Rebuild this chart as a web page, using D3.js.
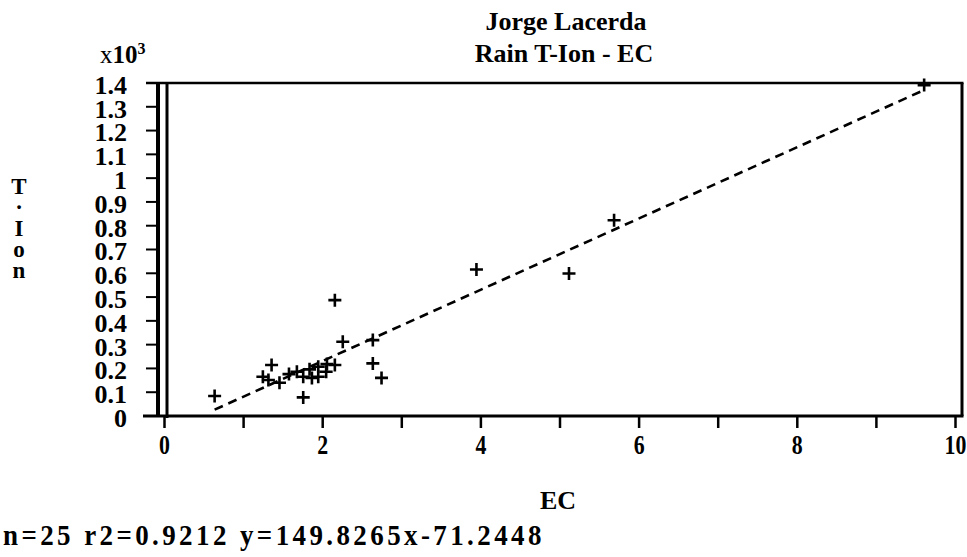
<!DOCTYPE html>
<html>
<head>
<meta charset="utf-8">
<script src="https://cdn.jsdelivr.net/npm/d3@7"></script>
<style>
  html, body { margin: 0; padding: 0; background: #fff; }
  svg { display: block; }
  text { font-family: "Liberation Serif", "Times New Roman", serif; font-weight: bold; fill: #000; }
</style>
</head>
<body>
<svg id="chart" width="967" height="557"></svg>
<script>
// Rain samples: electrical conductivity vs total ions
const ec   = [0.64, 1.36, 1.25, 1.32, 1.46, 1.68, 1.76, 1.84, 1.95, 1.95, 2.05, 2.16, 1.76,
              2.16, 2.26, 2.64, 2.64, 2.75, 3.95, 5.12, 5.69, 9.61, 1.58, 1.87, 2.06];
const tIon = [82, 212, 163, 149, 138, 184, 163, 194, 205, 163, 184, 212, 76,
              485, 310, 317, 219, 158, 614, 597, 821, 1389, 174, 158, 216];

// Least-squares fit reported under the chart
const fitN = 25;
const fitR2 = "0.9212";
const fitSlope = 149.8265;
const fitIntercept = -71.2448;

const xMajorTicks = [0, 2, 4, 6, 8, 10];
const xMinorTicks = [1, 3, 5, 7, 9];
const yTicks = [0, 100, 200, 300, 400, 500, 600, 700, 800, 900, 1000, 1100, 1200, 1300, 1400];
const yTickLabels = ["0", "0.1", "0.2", "0.3", "0.4", "0.5", "0.6", "0.7", "0.8", "0.9", "1", "1.1", "1.2", "1.3", "1.4"];

const titleLines = ["Jorge Lacerda", "Rain T-Ion - EC"];
const xTitle = "EC";
const yTitleChars = ["T", "\u00B7", "I", "o", "n"];

const svg = d3.select("#chart");
svg.append("rect").attr("width", 967).attr("height", 557).attr("fill", "#fff");

const x = d3.scaleLinear().domain([0, 10]).range([164, 955]);
const y = d3.scaleLinear().domain([0, 1400]).range([415.5, 82.5]);

const frameLeft = 158, frameRight = 962, frameTop = 83, frameBottom = 416;

// frame: top, right and bottom edges
const frame = svg.append("g").attr("stroke", "#000").attr("fill", "none");
frame.append("line").attr("x1", 146).attr("x2", frameRight + 1.5)
  .attr("y1", frameTop).attr("y2", frameTop).attr("stroke-width", 2.5);
frame.append("line").attr("x1", frameRight).attr("x2", frameRight)
  .attr("y1", frameTop).attr("y2", frameBottom).attr("stroke-width", 3);
// left edge is a heavy double rule flanking the EC = 0 line
frame.append("line").attr("x1", frameLeft).attr("x2", frameLeft)
  .attr("y1", frameTop - 1).attr("y2", frameBottom + 1).attr("stroke-width", 4);
frame.append("line").attr("x1", x(0) + 3).attr("x2", x(0) + 3)
  .attr("y1", frameTop - 1).attr("y2", frameBottom + 2).attr("stroke-width", 3);

// y axis
const yAxis = d3.axisLeft(y).tickValues(yTicks)
  .tickFormat((d, i) => yTickLabels[i]).tickSize(12).tickPadding(19);
const gy = svg.append("g").attr("transform", `translate(${frameLeft},0)`).call(yAxis);
gy.select(".domain").remove();
gy.selectAll(".tick line").attr("stroke", "#000").attr("stroke-width", 2);
gy.selectAll(".tick text").attr("font-size", 26).attr("dy", "0.42em")
  .attr("font-family", "Liberation Serif, serif").attr("font-weight", "bold");

// x axis with labelled even ticks and unlabelled odd ticks
const xAxis = d3.axisBottom(x).tickValues(xMajorTicks).tickSize(12).tickPadding(6)
  .tickFormat(d3.format("d"));
const gx = svg.append("g").attr("transform", `translate(0,${frameBottom})`).call(xAxis);
gx.select(".domain").remove();
gx.selectAll(".tick line").attr("stroke", "#000").attr("stroke-width", 2.5);
gx.selectAll(".tick text").attr("font-size", 28).attr("transform", "scale(0.78,1)")
  .attr("font-family", "Liberation Serif, serif").attr("font-weight", "bold");
const xMinor = d3.axisBottom(x).tickValues(xMinorTicks).tickSize(12).tickFormat("");
const gxm = svg.append("g").attr("transform", `translate(0,${frameBottom})`).call(xMinor);
gxm.select(".domain").remove();
gxm.selectAll(".tick line").attr("stroke", "#000").attr("stroke-width", 2.5);

// bottom edge drawn over the tick roots
svg.append("line").attr("x1", 143).attr("x2", frameRight + 1.5)
  .attr("y1", frameBottom).attr("y2", frameBottom)
  .attr("stroke", "#000").attr("stroke-width", 3);

// regression line across the observed EC range
const [xMin, xMax] = d3.extent(ec);
svg.append("line")
  .attr("x1", x(xMin)).attr("y1", y(fitSlope * xMin + fitIntercept))
  .attr("x2", x(xMax)).attr("y2", y(fitSlope * xMax + fitIntercept))
  .attr("stroke", "#000").attr("stroke-width", 2.6).attr("stroke-dasharray", "9,6");

// plus markers
const pts = ec.map((v, i) => ({ x: v, y: tIon[i] }));
const s = 6.5;
svg.append("g").selectAll("path").data(pts).join("path")
  .attr("d", d => {
    const cx = x(d.x), cy = y(d.y);
    return `M${cx - s},${cy}H${cx + s}M${cx},${cy - s}V${cy + s}`;
  })
  .attr("stroke", "#000").attr("stroke-width", 2.6).attr("fill", "none");

// titles
svg.append("text").attr("x", 566).attr("y", 30).attr("text-anchor", "middle")
  .attr("font-size", 26).text(titleLines[0]);
svg.append("text").attr("x", 564).attr("y", 62).attr("text-anchor", "middle")
  .attr("font-size", 26).text(titleLines[1]);

// axis multiplier
const mult = svg.append("text").attr("x", 100).attr("y", 63).attr("font-size", 25);
mult.append("tspan").attr("font-weight", "normal").text("x");
mult.append("tspan").text("10");
mult.append("tspan").attr("font-size", 16).attr("dy", -9).text("3");

// y title as stacked characters
svg.append("g").selectAll("text").data(yTitleChars).join("text")
  .attr("x", 19).attr("y", (d, i) => 194 + i * 21)
  .attr("text-anchor", "middle").attr("font-size", 23)
  .text(d => d);

// x title
svg.append("text").attr("x", 558).attr("y", 509).attr("text-anchor", "middle")
  .attr("font-size", 26).text(xTitle);

// fit summary
const sign = fitIntercept < 0 ? "-" : "+";
svg.append("text").attr("transform", "translate(3,545) scale(1,1.12)").attr("font-size", 27)
  .attr("letter-spacing", 3.4)
  .text(`n=${fitN} r2=${fitR2} y=${fitSlope}x${sign}${Math.abs(fitIntercept)}`);
</script>
</body>
</html>
